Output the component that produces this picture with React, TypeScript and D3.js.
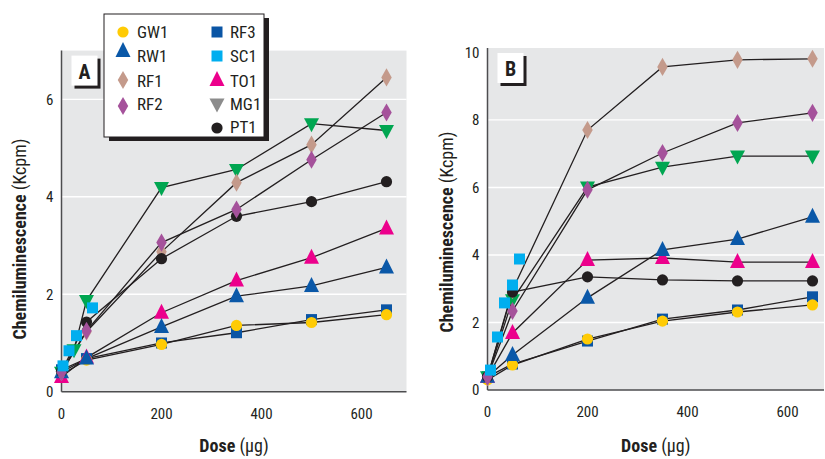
import React from "react";
import * as d3 from "d3";

// Doses (µg) shared by most series
const DOSE = [0, 50, 200, 350, 500, 650];
const DOSE_MG1_A = [0, 25, 50, 200, 350, 500, 650];
const DOSE_SC1_A = [3, 15, 30, 62];
const DOSE_SC1_B = [6, 20, 34, 50, 64];

// Panel A values (Kcpm)
const GW1_A = [0.35, 0.65, 0.97, 1.36, 1.42, 1.58];
const RW1_A = [0.4, 0.68, 1.33, 1.96, 2.17, 2.55];
const RF1_A = [0.4, 1.23, 2.87, 4.29, 5.07, 6.45];
const RF2_A = [0.4, 1.25, 3.06, 3.74, 4.76, 5.73];
const RF3_A = [0.45, 0.68, 1.0, 1.21, 1.48, 1.68];
const SC1_A = [0.53, 0.84, 1.15, 1.72];
const TO1_A = [0.3, 0.7, 1.62, 2.28, 2.75, 3.35];
const MG1_A = [0.4, 0.86, 1.87, 4.19, 4.56, 5.5, 5.36];
const PT1_A = [0.42, 1.43, 2.73, 3.6, 3.9, 4.31];

// Panel B values (Kcpm)
const GW1_B = [0.3, 0.74, 1.51, 2.04, 2.31, 2.52];
const RW1_B = [0.39, 1.04, 2.73, 4.15, 4.47, 5.13];
const RF1_B = [0.39, 2.96, 7.7, 9.57, 9.78, 9.81];
const RF2_B = [0.39, 2.34, 5.93, 7.02, 7.91, 8.21];
const RF3_B = [0.39, 0.77, 1.45, 2.1, 2.37, 2.76];
const SC1_B = [0.59, 1.57, 2.58, 3.11, 3.88];
const TO1_B = [0.39, 1.69, 3.85, 3.91, 3.79, 3.79];
const MG1_B = [0.39, 2.67, 6.01, 6.6, 6.93, 6.93];
const PT1_B = [0.39, 2.9, 3.35, 3.26, 3.23, 3.23];

const X_TICKS = [0, 200, 400, 600];
const Y_TICKS_A = [0, 2, 4, 6];
const Y_TICKS_B = [0, 2, 4, 6, 8, 10];

type Shape = "circle" | "triangle" | "triangleDown" | "diamond" | "square";

interface SeriesDef {
  name: string;
  shape: Shape;
  color: string;
  legendColor: string;
  connected: boolean;
}

const SERIES: Record<string, SeriesDef> = {
  GW1: { name: "GW1", shape: "circle", color: "#ffcb05", legendColor: "#ffcb05", connected: true },
  RW1: { name: "RW1", shape: "triangle", color: "#0a58a8", legendColor: "#0a58a8", connected: true },
  RF1: { name: "RF1", shape: "diamond", color: "#c49a8b", legendColor: "#c49a8b", connected: true },
  RF2: { name: "RF2", shape: "diamond", color: "#a5529b", legendColor: "#a5529b", connected: true },
  RF3: { name: "RF3", shape: "square", color: "#0a55a5", legendColor: "#0a55a5", connected: true },
  SC1: { name: "SC1", shape: "square", color: "#00aeef", legendColor: "#00aeef", connected: false },
  TO1: { name: "TO1", shape: "triangle", color: "#ec008c", legendColor: "#ec008c", connected: true },
  MG1: { name: "MG1", shape: "triangleDown", color: "#00a651", legendColor: "#8c8c8c", connected: true },
  PT1: { name: "PT1", shape: "circle", color: "#231f20", legendColor: "#231f20", connected: true },
};

// Drawing order, bottom to top
const DRAW_ORDER = ["RF3", "GW1", "MG1", "TO1", "RW1", "RF1", "PT1", "RF2", "SC1"];

const PANEL_A_DATA: Record<string, { x: number[]; y: number[] }> = {
  GW1: { x: DOSE, y: GW1_A },
  RW1: { x: DOSE, y: RW1_A },
  RF1: { x: DOSE, y: RF1_A },
  RF2: { x: DOSE, y: RF2_A },
  RF3: { x: DOSE, y: RF3_A },
  SC1: { x: DOSE_SC1_A, y: SC1_A },
  TO1: { x: DOSE, y: TO1_A },
  MG1: { x: DOSE_MG1_A, y: MG1_A },
  PT1: { x: DOSE, y: PT1_A },
};

const PANEL_B_DATA: Record<string, { x: number[]; y: number[] }> = {
  GW1: { x: DOSE, y: GW1_B },
  RW1: { x: DOSE, y: RW1_B },
  RF1: { x: DOSE, y: RF1_B },
  RF2: { x: DOSE, y: RF2_B },
  RF3: { x: DOSE, y: RF3_B },
  SC1: { x: DOSE_SC1_B, y: SC1_B },
  TO1: { x: DOSE, y: TO1_B },
  MG1: { x: DOSE, y: MG1_B },
  PT1: { x: DOSE, y: PT1_B },
};

const FONT =
  "'Liberation Sans Narrow', 'Roboto Condensed', 'DejaVu Sans Condensed', 'Arial Narrow', 'Liberation Sans', sans-serif";

const PLOT_BG = "#e6e7e8";
const AXIS_COLOR = "#4d4d4f";
const TEXT_COLOR = "#231f20";
const LINE_COLOR = "#231f20";

function markerPath(shape: Shape): string {
  switch (shape) {
    case "circle":
      return d3.symbol(d3.symbolCircle, Math.PI * 5.6 * 5.6)() as string;
    case "square":
      return d3.symbol(d3.symbolSquare, 11 * 11)() as string;
    case "diamond":
      return d3.symbol(d3.symbolDiamond, 95)() as string;
    case "triangle":
      return "M0,-9L7.5,6L-7.5,6Z";
    case "triangleDown":
      return "M0,8.5L7.5,-5.5L-7.5,-5.5Z";
  }
}

interface PanelProps {
  label: string;
  data: Record<string, { x: number[]; y: number[] }>;
  xRange: [number, number];
  xMax: number;
  yRange: [number, number];
  yMax: number;
  yTicks: number[];
  yTitleX: number;
  yTitleY: number;
}

function Panel(p: PanelProps) {
  const x = d3.scaleLinear().domain([0, p.xMax]).range(p.xRange);
  const y = d3.scaleLinear().domain([0, p.yMax]).range(p.yRange);
  const [left, right] = p.xRange;
  const [bottom, top] = p.yRange;
  const line = d3
    .line<[number, number]>()
    .x((d) => x(d[0]))
    .y((d) => y(d[1]));
  const cx = (left + right) / 2;

  return (
    <g>
      <rect x={left} y={top} width={right - left} height={bottom - top} fill={PLOT_BG} />
      {p.yTicks
        .filter((t) => t > 0 && y(t) - top > 8)
        .map((t) => (
          <line key={t} x1={left} x2={right} y1={y(t)} y2={y(t)} stroke="#ffffff" strokeWidth={1.4} />
        ))}
      {/* axes */}
      <line x1={left} x2={left} y1={top} y2={bottom} stroke={AXIS_COLOR} strokeWidth={1.5} />
      <line x1={left} x2={right} y1={bottom} y2={bottom} stroke={AXIS_COLOR} strokeWidth={1.5} />
      {p.yTicks.map((t) => (
        <text
          key={t}
          x={left - 8}
          y={y(t)}
          dy="0.36em"
          textAnchor="end"
          fontSize={15}
          fontFamily={FONT}
          fill={TEXT_COLOR}
        >
          {t}
        </text>
      ))}
      {X_TICKS.map((t) => (
        <text
          key={t}
          x={x(t)}
          y={bottom + 27}
          textAnchor="middle"
          fontSize={15}
          fontFamily={FONT}
          fill={TEXT_COLOR}
        >
          {t}
        </text>
      ))}
      {/* series lines */}
      {DRAW_ORDER.filter((k) => SERIES[k].connected).map((k) => {
        const d = p.data[k];
        const pts = d.x.map((v, i) => [v, d.y[i]] as [number, number]);
        return <path key={k} d={line(pts) as string} fill="none" stroke={LINE_COLOR} strokeWidth={1.3} />;
      })}
      {/* series markers */}
      {DRAW_ORDER.map((k) => {
        const d = p.data[k];
        const s = SERIES[k];
        const path = markerPath(s.shape);
        return (
          <g key={k}>
            {d.x.map((v, i) => (
              <path key={i} d={path} transform={`translate(${x(v)},${y(d.y[i])})`} fill={s.color} />
            ))}
          </g>
        );
      })}
      {/* panel letter */}
      <rect x={left + 13} y={top + 8} width={26} height={30} fill="#231f20" />
      <rect x={left + 10} y={top + 5} width={26} height={30} fill="#ffffff" />
      <text
        x={left + 23}
        y={top + 28}
        textAnchor="middle"
        fontSize={20}
        fontWeight="bold"
        fontFamily={FONT}
        fill={TEXT_COLOR}
      >
        {p.label}
      </text>
      {/* axis titles */}
      <text x={cx} y={452} textAnchor="middle" fontSize={18} fontFamily={FONT} fill={TEXT_COLOR}>
        <tspan fontWeight="bold">Dose</tspan>
        <tspan> (μg)</tspan>
      </text>
      <text
        transform={`translate(${p.yTitleX},${p.yTitleY}) rotate(-90)`}
        textAnchor="middle"
        fontSize={18}
        fontFamily={FONT}
        fill={TEXT_COLOR}
      >
        <tspan fontWeight="bold">Chemiluminescence</tspan>
        <tspan> (Kcpm)</tspan>
      </text>
    </g>
  );
}

const LEGEND_LEFT = ["GW1", "RW1", "RF1", "RF2"];
const LEGEND_RIGHT = ["RF3", "SC1", "TO1", "MG1", "PT1"];

function Legend() {
  const lx = 104;
  const ly = 14;
  const w = 160;
  const h = 123;
  const leftMarkY = [32, 51, 80, 106];
  const leftTextY = [38, 62, 87, 110];
  const rightMarkY = [32, 56, 80, 104, 128];
  const rightTextY = [38, 62, 87, 110, 133];
  const item = (k: string, mx: number, my: number, tx: number, ty: number) => {
    const s = SERIES[k];
    return (
      <g key={k}>
        <path d={markerPath(s.shape)} transform={`translate(${mx},${my})`} fill={s.legendColor} />
        <text x={tx} y={ty} fontSize={17} fontFamily={FONT} fill={TEXT_COLOR}>
          {s.name}
        </text>
      </g>
    );
  };
  return (
    <g>
      <rect x={lx + 5} y={ly + 4} width={w} height={h} fill="#231f20" />
      <rect x={lx} y={ly} width={w} height={h} fill="#ffffff" stroke="#231f20" strokeWidth={1} />
      {LEGEND_LEFT.map((k, i) => item(k, 123, leftMarkY[i], 137, leftTextY[i]))}
      {LEGEND_RIGHT.map((k, i) => item(k, 217, rightMarkY[i], 230, rightTextY[i]))}
    </g>
  );
}

export default function App() {
  return (
    <svg
      width={825}
      height={459}
      viewBox="0 0 825 459"
      style={{ position: "absolute", left: 0, top: 0, background: "#ffffff" }}
    >
      <Panel
        label="A"
        data={PANEL_A_DATA}
        xRange={[61.5, 406.5]}
        xMax={690}
        yRange={[391.7, 50.6]}
        yMax={7}
        yTicks={Y_TICKS_A}
        yTitleX={26}
        yTitleY={239}
      />
      <Panel
        label="B"
        data={PANEL_B_DATA}
        xRange={[487.5, 824]}
        xMax={673}
        yRange={[390, 48]}
        yMax={10.13}
        yTicks={Y_TICKS_B}
        yTitleX={453}
        yTitleY={232}
      />
      <Legend />
    </svg>
  );
}
